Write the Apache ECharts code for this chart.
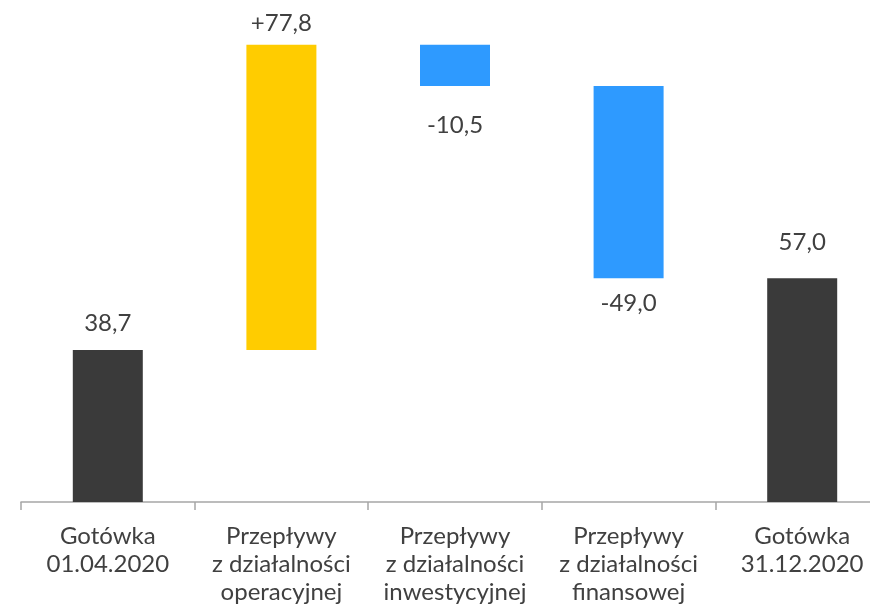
<!DOCTYPE html>
<html><head><meta charset="utf-8">
<script src="https://cdn.jsdelivr.net/npm/echarts@6/dist/echarts.min.js"></script>
<style>html,body{margin:0;padding:0;background:#fff}#c{width:870px;height:605px}</style>
</head><body><div id="c"></div>
<script>
var categories = ['Gotówka\n01.04.2020', 'Przepływy\nz działalności\noperacyjnej', 'Przepływy\nz działalności\ninwestycyjnej', 'Przepływy\nz działalności\nfinansowej', 'Gotówka\n31.12.2020'];
var changes = [38.7, 77.8, -10.5, -49.0, 57.0];
var isTotal = [true, false, false, false, true];
var valueLabels = ['38,7', '+77,8', '-10,5', '-49,0', '57,0'];

var colDark = '#3a3a3a', colUp = '#ffcc00', colDown = '#2e9aff';
var base = [], vis = [], running = 0;
for (var i = 0; i < changes.length; i++) {
  if (isTotal[i]) { base.push(0); vis.push(changes[i]); running = changes[i]; }
  else if (changes[i] >= 0) { base.push(running); vis.push(changes[i]); running += changes[i]; }
  else { running += changes[i]; base.push(running); vis.push(-changes[i]); }
}
var labelDist = [15, 9, 27, 13, 24];
var visData = vis.map(function (v, i) {
  var neg = !isTotal[i] && changes[i] < 0;
  return {
    value: v,
    itemStyle: { color: isTotal[i] ? colDark : (neg ? colDown : colUp) },
    label: { show: true, position: neg ? 'bottom' : 'top', distance: labelDist[i], formatter: valueLabels[i] }
  };
});
var chart = echarts.init(document.getElementById('c'));
chart.setOption({
  animation: false,
  grid: { left: 21, width: 868, top: 31, bottom: 103, outerBoundsMode: 'none', containLabel: false },
  xAxis: {
    type: 'category', data: categories,
    axisLine: { lineStyle: { color: '#a6a6a6', width: 1.5 } },
    axisTick: { show: true, length: 8, lineStyle: { color: '#a6a6a6', width: 1.5 } },
    axisLabel: { color: '#404040', fontFamily: 'Lato', fontSize: 24, lineHeight: 28, margin: 20, interval: 0 }
  },
  yAxis: { type: 'value', min: 0, max: 120, show: false, splitLine: { show: false } },
  series: [
    { type: 'bar', stack: 'w', data: base, itemStyle: { color: 'transparent' }, barWidth: 70, silent: true },
    { type: 'bar', stack: 'w', data: visData, barWidth: 70,
      label: { color: '#404040', fontFamily: 'Lato', fontSize: 24 } }
  ]
});
</script></body></html>
